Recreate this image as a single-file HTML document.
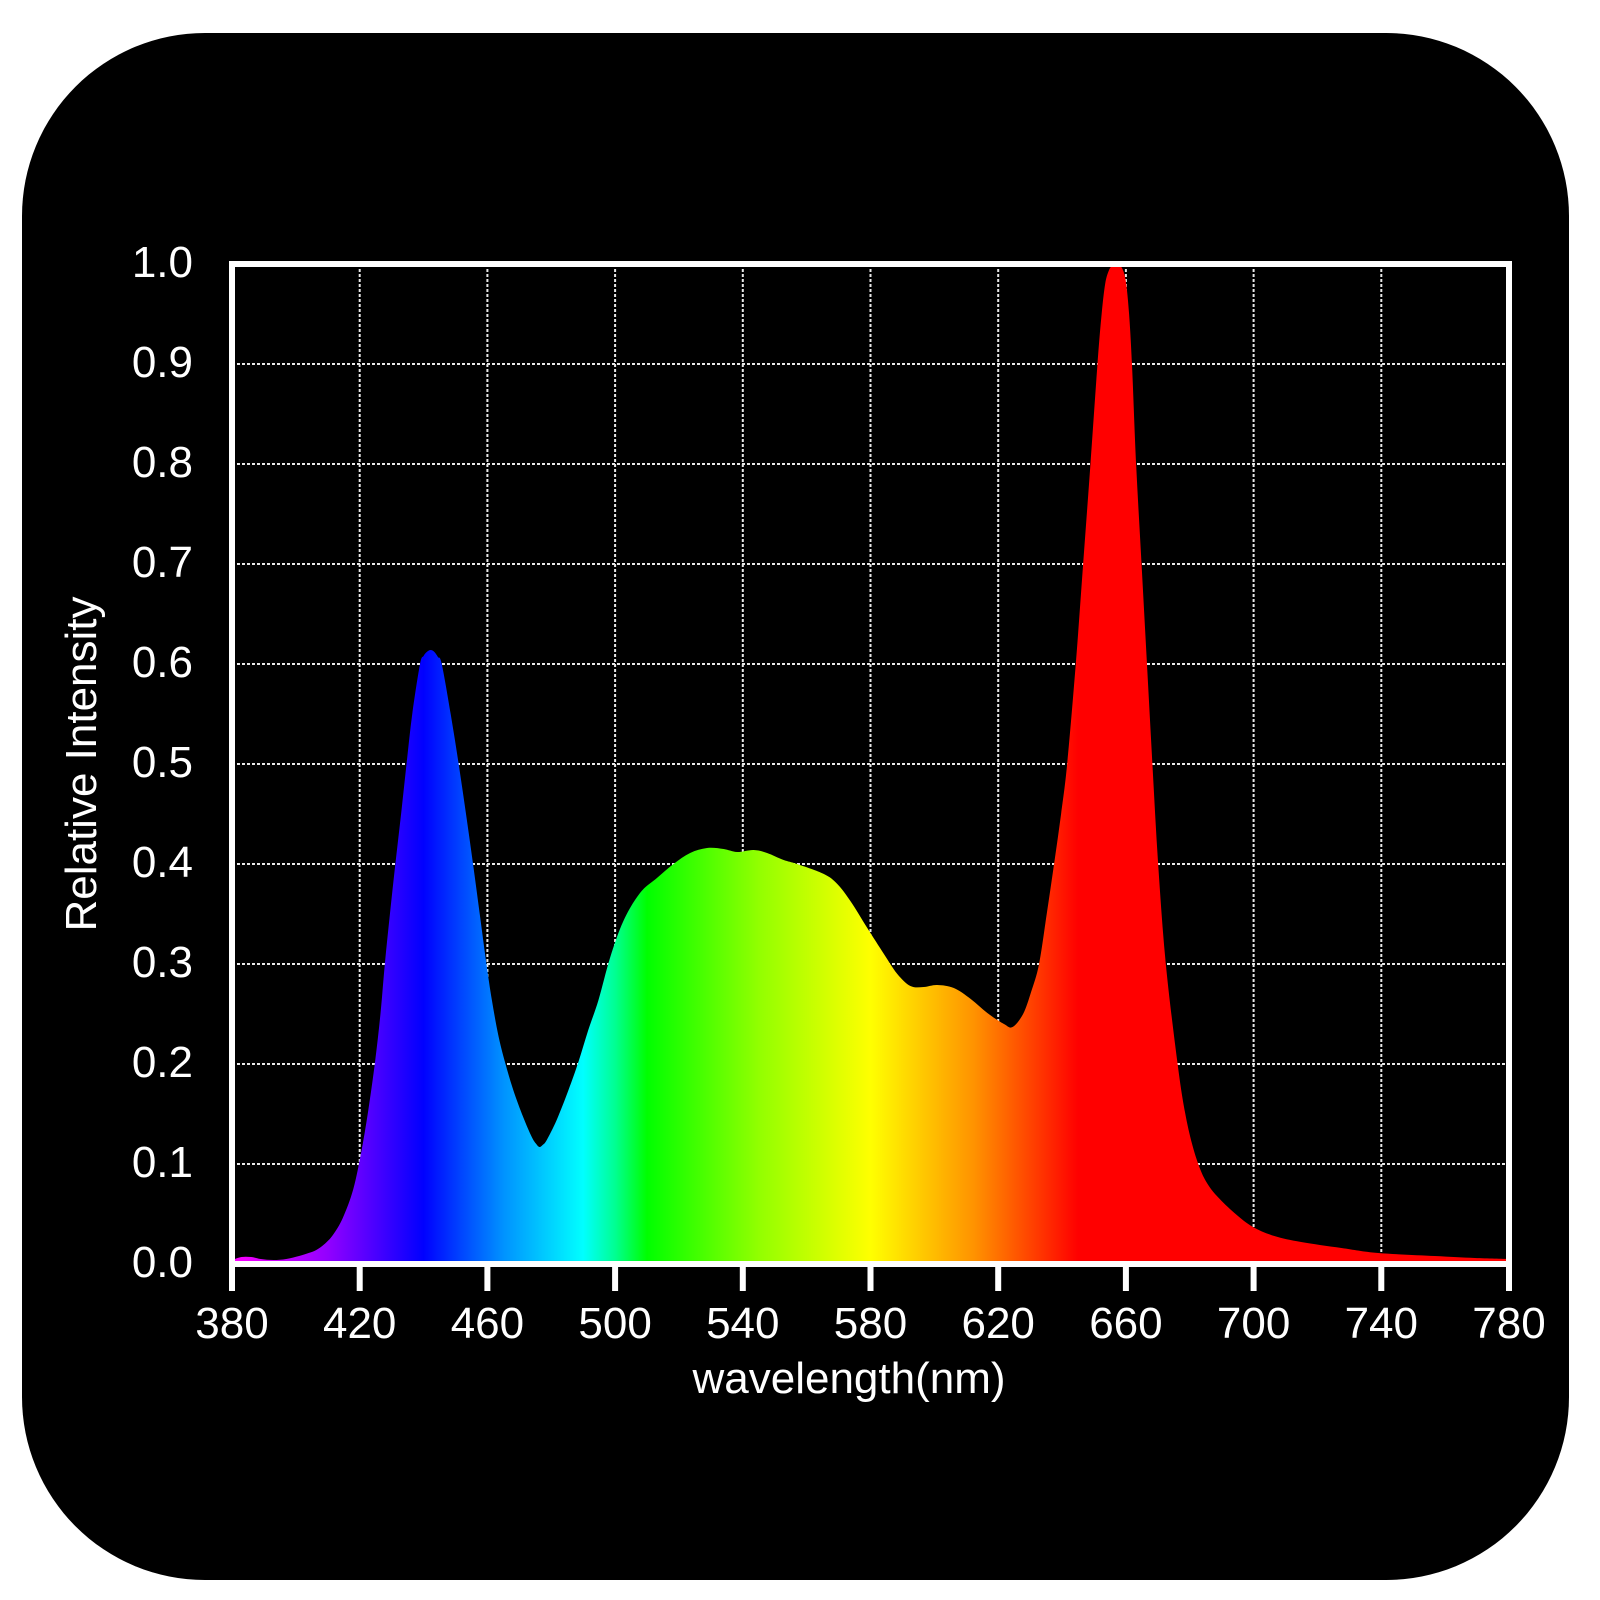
<!DOCTYPE html>
<html>
<head>
<meta charset="utf-8">
<style>
  html, body { margin: 0; padding: 0; background: #ffffff; }
  svg { display: block; }
  text { font-family: "Liberation Sans", "DejaVu Sans", sans-serif; fill: #ffffff; }
</style>
</head>
<body>
<svg width="1600" height="1600" viewBox="0 0 1600 1600" xmlns="http://www.w3.org/2000/svg">
  <defs>
    <linearGradient id="spec" gradientUnits="userSpaceOnUse" x1="0" y1="0" x2="400" y2="0">
      <stop offset="0" stop-color="#ff00ff"/>
      <stop offset="0.075" stop-color="#9200ff"/>
      <stop offset="0.15" stop-color="#0000ff"/>
      <stop offset="0.2125" stop-color="#0092ff"/>
      <stop offset="0.275" stop-color="#00ffff"/>
      <stop offset="0.3" stop-color="#00ff92"/>
      <stop offset="0.325" stop-color="#00ff00"/>
      <stop offset="0.4125" stop-color="#92ff00"/>
      <stop offset="0.5" stop-color="#ffff00"/>
      <stop offset="0.58125" stop-color="#ff9200"/>
      <stop offset="0.6625" stop-color="#ff0000"/>
      <stop offset="1" stop-color="#ff0000"/>
    </linearGradient>
  </defs>

  <rect x="0" y="0" width="1600" height="1600" fill="#ffffff"/>
  <rect x="22" y="33" width="1547" height="1547" rx="183" ry="183" fill="#000000"/>

  <!-- grid -->
  <g stroke="#e8e8e8" stroke-width="2" stroke-dasharray="3 2" fill="none">
    <line x1="359.7" y1="264" x2="359.7" y2="1264"/>
    <line x1="487.4" y1="264" x2="487.4" y2="1264"/>
    <line x1="615.1" y1="264" x2="615.1" y2="1264"/>
    <line x1="742.8" y1="264" x2="742.8" y2="1264"/>
    <line x1="870.5" y1="264" x2="870.5" y2="1264"/>
    <line x1="998.2" y1="264" x2="998.2" y2="1264"/>
    <line x1="1125.9" y1="264" x2="1125.9" y2="1264"/>
    <line x1="1253.6" y1="264" x2="1253.6" y2="1264"/>
    <line x1="1381.3" y1="264" x2="1381.3" y2="1264"/>
    <line x1="232" y1="364" x2="1509" y2="364"/>
    <line x1="232" y1="464" x2="1509" y2="464"/>
    <line x1="232" y1="564" x2="1509" y2="564"/>
    <line x1="232" y1="664" x2="1509" y2="664"/>
    <line x1="232" y1="764" x2="1509" y2="764"/>
    <line x1="232" y1="864" x2="1509" y2="864"/>
    <line x1="232" y1="964" x2="1509" y2="964"/>
    <line x1="232" y1="1064" x2="1509" y2="1064"/>
    <line x1="232" y1="1164" x2="1509" y2="1164"/>
  </g>

  <!-- spectrum fill -->
  <g transform="translate(232,1264) scale(3.1925,-1000)">
    <path id="spd" fill="url(#spec)" stroke="none" d="M0,0 L0,.004 L3,.007 L6,.007 L9,.005 L13,.004 L17,.005 L21,.008 L24,.011 L26.4,.014 L29,.02 L31.6,.029 L34.7,.046 L38,.075 L40.6,.114 L42.7,.154 L44.8,.202 L46.5,.25 L47.9,.301 L49.5,.351 L51.2,.401 L53,.451 L54.7,.501 L56.5,.551 L58.9,.6 L60,.608 L61,.612 L62.2,.614 L63.4,.612 L64.5,.607 L65.7,.6 L68.5,.55 L71,.5 L73.3,.45 L75.5,.4 L77.6,.35 L79.7,.3 L81.4,.264 L83.4,.229 L85.5,.202 L88.1,.174 L91.2,.147 L93.9,.127 L95.3,.12 L96.3,.117 L97.3,.119 L98.6,.124 L101.7,.144 L105.4,.174 L108.5,.202 L111.6,.234 L114.8,.264 L118.4,.306 L122.6,.343 L127.8,.371 L133.1,.386 L138.3,.4 L143.5,.411 L148.8,.416 L154,.415 L158.2,.412 L163.4,.414 L167.6,.411 L172.8,.404 L177,.4 L185.4,.39 L189.6,.38 L193.7,.363 L199,.336 L204.2,.31 L208.4,.29 L212.5,.278 L216.7,.277 L220.9,.279 L226.1,.276 L231.4,.265 L236.6,.251 L241.8,.24 L244.5,.237 L247.8,.25 L250.3,.272 L252.8,.3 L255.2,.35 L257.5,.4 L259.7,.45 L261.6,.5 L264.3,.6 L266.6,.7 L268.9,.8 L271.1,.9 L272.4,.95 L273.5,.98 L274.6,.993 L275.8,.999 L276.9,1 L278,.999 L279.2,.993 L280.1,.98 L281,.95 L281.9,.9 L283.2,.8 L284.9,.7 L286.6,.6 L288.3,.5 L290.1,.4 L292.5,.3 L296.2,.2 L298.5,.152 L300.9,.118 L303.5,.093 L306,.078 L308.8,.067 L314,.051 L319.8,.037 L326.5,.028 L334.9,.022 L347.5,.016 L359,.011 L376.7,.008 L389.3,.006 L400,.005 L400,0 Z"/>
  </g>

  <!-- frame -->
  <rect x="232" y="264" width="1277" height="1000" fill="none" stroke="#ffffff" stroke-width="6"/>

  <!-- x ticks -->
  <g stroke="#ffffff" stroke-width="6">
    <line x1="232" y1="1262" x2="232" y2="1291"/>
    <line x1="359.7" y1="1262" x2="359.7" y2="1291"/>
    <line x1="487.4" y1="1262" x2="487.4" y2="1291"/>
    <line x1="615.1" y1="1262" x2="615.1" y2="1291"/>
    <line x1="742.8" y1="1262" x2="742.8" y2="1291"/>
    <line x1="870.5" y1="1262" x2="870.5" y2="1291"/>
    <line x1="998.2" y1="1262" x2="998.2" y2="1291"/>
    <line x1="1125.9" y1="1262" x2="1125.9" y2="1291"/>
    <line x1="1253.6" y1="1262" x2="1253.6" y2="1291"/>
    <line x1="1381.3" y1="1262" x2="1381.3" y2="1291"/>
    <line x1="1509" y1="1262" x2="1509" y2="1291"/>
  </g>

  <!-- x tick labels -->
  <g font-size="44" text-anchor="middle">
    <text x="232" y="1338">380</text>
    <text x="359.7" y="1338">420</text>
    <text x="487.4" y="1338">460</text>
    <text x="615.1" y="1338">500</text>
    <text x="742.8" y="1338">540</text>
    <text x="870.5" y="1338">580</text>
    <text x="998.2" y="1338">620</text>
    <text x="1125.9" y="1338">660</text>
    <text x="1253.6" y="1338">700</text>
    <text x="1381.3" y="1338">740</text>
    <text x="1509" y="1338">780</text>
  </g>

  <!-- y tick labels -->
  <g font-size="44" text-anchor="end">
    <text x="193" y="277">1.0</text>
    <text x="193" y="377">0.9</text>
    <text x="193" y="477">0.8</text>
    <text x="193" y="577">0.7</text>
    <text x="193" y="677">0.6</text>
    <text x="193" y="777">0.5</text>
    <text x="193" y="877">0.4</text>
    <text x="193" y="977">0.3</text>
    <text x="193" y="1077">0.2</text>
    <text x="193" y="1177">0.1</text>
    <text x="193" y="1277">0.0</text>
  </g>

  <!-- axis titles -->
  <text x="849" y="1393" font-size="44" text-anchor="middle">wavelength(nm)</text>
  <text transform="translate(96,764) rotate(-90)" font-size="44" text-anchor="middle">Relative Intensity</text>
</svg>
<script>
(function(){
  try {
    var p = document.getElementById('spd');
    var d = p.getAttribute('d');
    var nums = d.replace(/[MLZ]/g,' ').trim().split(/[\s,]+/).map(Number);
    var pts = [];
    for (var i = 0; i < nums.length; i += 2) pts.push([nums[i], nums[i+1]]);
    var c = pts.slice(1, pts.length - 1);
    var out = 'M0,0 L' + c[0][0] + ',' + c[0][1];
    for (var k = 0; k < c.length - 1; k++) {
      var p0 = c[k-1] || c[k], p1 = c[k], p2 = c[k+1], p3 = c[k+2] || c[k+1];
      var c1x = p1[0] + (p2[0]-p0[0])/6, c1y = p1[1] + (p2[1]-p0[1])/6;
      var c2x = p2[0] - (p3[0]-p1[0])/6, c2y = p2[1] - (p3[1]-p1[1])/6;
      if (c1y < 0) c1y = 0; if (c2y < 0) c2y = 0;
      out += ' C' + c1x.toFixed(3) + ',' + c1y.toFixed(4) + ' ' + c2x.toFixed(3) + ',' + c2y.toFixed(4) + ' ' + p2[0] + ',' + p2[1];
    }
    out += ' L400,0 Z';
    p.setAttribute('d', out);
  } catch (e) {}
})();
</script>
</body>
</html>
